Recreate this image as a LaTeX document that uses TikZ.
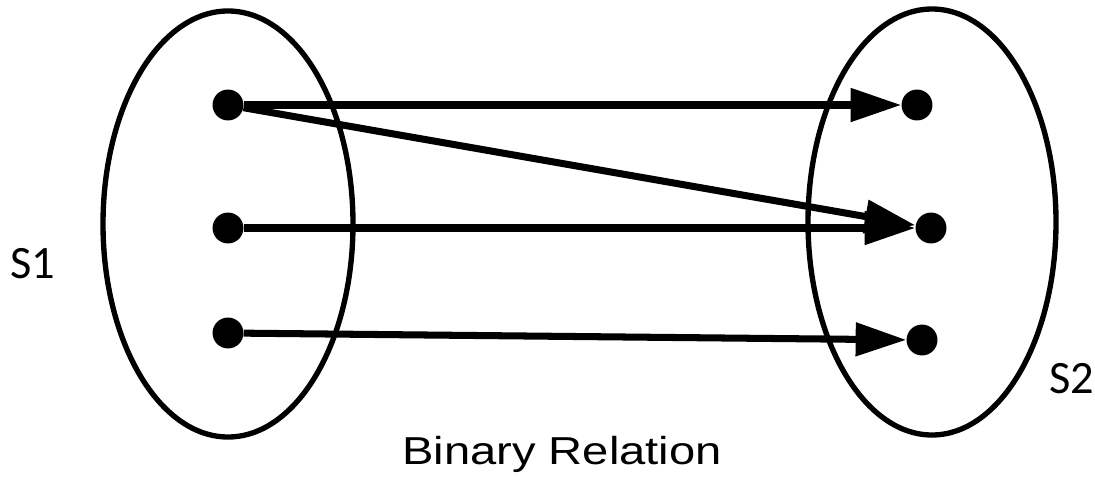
\documentclass[tikz,border=0pt]{standalone}
\usepackage{fontspec}
\usepackage{tikz}
\usetikzlibrary{arrows.meta}
\newfontfamily\setfont{Carlito}
\newfontfamily\capfont{Liberation Sans}

\begin{document}
\begin{tikzpicture}[
  x=0.025cm, y=-0.025cm,
  elem/.style={circle,fill=black,inner sep=0pt,minimum size=22pt},
  arr/.style={-{Triangle[length=36pt,width=23pt]},line width=5pt},
  setline/.style={line width=3.8pt},
  setlbl/.style={font=\setfont\fontsize{33}{40}\selectfont,inner sep=0pt,anchor=base},
  caption/.style={font=\capfont\fontsize{27.7}{33}\selectfont,inner sep=0pt,anchor=base}
]
\useasboundingbox (0,0) rectangle (1095,479);

% the two sets
\draw[setline] (228,224) ellipse [x radius=125, y radius=213];
\draw[setline] (932,222) ellipse [x radius=124, y radius=213];

% elements of S1
\node[elem] (a1) at (228,105) {};
\node[elem] (a2) at (228,228) {};
\node[elem] (a3) at (228,333) {};

% elements of S2
\node[elem] (b1) at (917,105) {};
\node[elem] (b2) at (931,228) {};
\node[elem] (b3) at (922,340) {};

% labels
\node[setlbl] (s1) at (33,278) {S1};
\node[setlbl] (s2) at (1072,393) {S2};
\node[caption] (rel) at (562,464) {\scalebox{1.21}[1]{Binary Relation}};

\draw[arr] (a1) -- (b1);
\draw[arr] (a1) -- (b2);
\draw[arr] (a2) -- (b2);
\draw[arr] (a3) -- (b3);
\end{tikzpicture}
\end{document}
